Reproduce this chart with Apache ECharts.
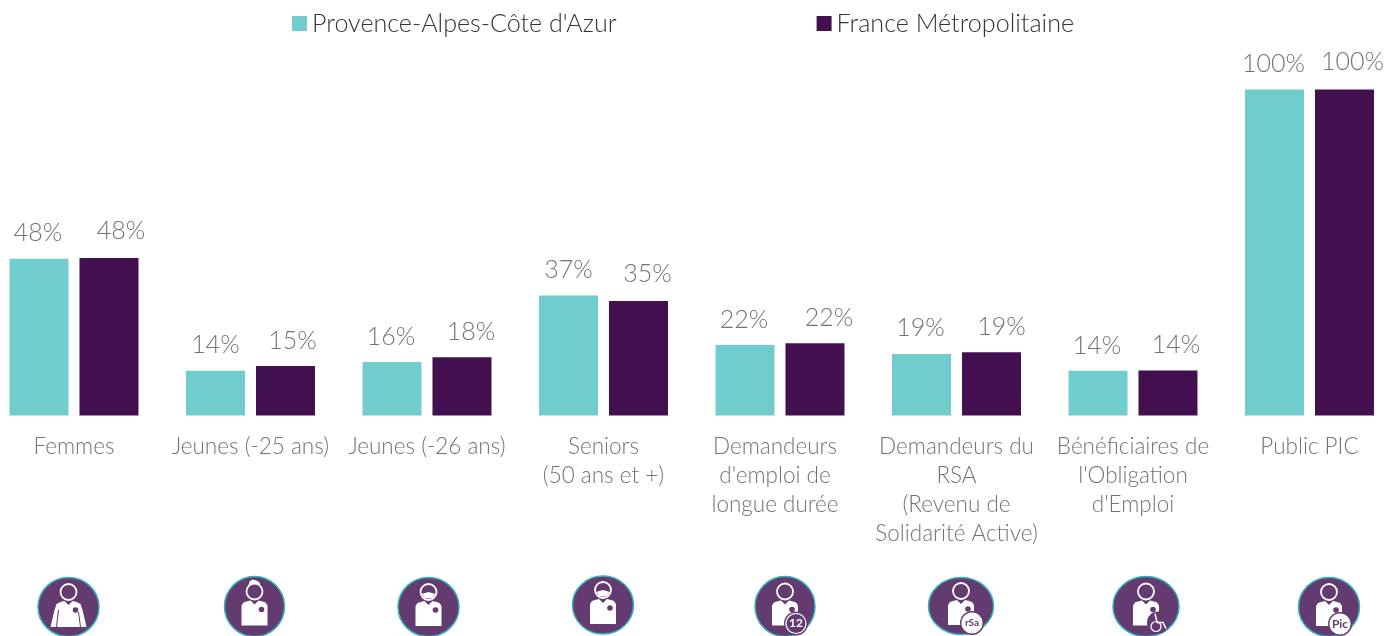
<!DOCTYPE html>
<html>
<head>
<meta charset="utf-8">
<title>Public PIC</title>
<style>
html, body { margin: 0; padding: 0; background: #fff; }
#chart { width: 1386px; height: 636px; }
</style>
<script src="https://cdn.jsdelivr.net/npm/echarts@6/dist/echarts.min.js"></script>
</head>
<body>
<div id="chart"></div>
<script>
// donnees
var categories = ['Femmes', 'Jeunes (-25 ans)', 'Jeunes (-26 ans)', 'Seniors\n(50 ans et +)',
    "Demandeurs\nd'emploi de\nlongue durée", 'Demandeurs du\nRSA\n(Revenu de\nSolidarité Active)',
    "Bénéficiaires de\nl'Obligation\nd'Emploi", 'Public PIC'];
var regionName = "Provence-Alpes-Côte d'Azur";
var franceName = 'France Métropolitaine';
var regionValues = [48.1, 13.7, 16.4, 36.8, 21.6, 18.9, 13.7, 100];
var franceValues = [48.3, 15.2, 17.9, 35.1, 22.2, 19.4, 13.8, 100];

// decalage des etiquettes [x, y], les etiquettes ne sont pas centrees sur les barres
var regionLabelShift = [[-1, 0], [0, 0], [-1, 0], [0, 0], [-1, 0], [-1, 0], [-1, 1], [-1, 0]];
var franceLabelShift = [[12, -2], [7, 0], [9, 0], [9, -2], [14, 0], [10, 0], [8, 0], [8, -2]];

// pictogrammes : centre x, centre y, rx, ry, type
var icons = [
    [68.5, 607, 30.5, 29.5, 'femme'],
    [254.5, 606.5, 30, 30, 'jeune1'],
    [428.5, 607, 30.5, 29.5, 'jeune2'],
    [603, 605, 30.5, 29, 'senior'],
    [785, 606.5, 30, 30, '12'],
    [961, 606, 32.5, 28.5, 'rSa'],
    [1146, 606.5, 33, 30, 'fauteuil'],
    [1329, 607, 30.5, 29.5, 'Pic']
];

var FONT = 'Lato';
var GREY = '#737373';
var PURPLE = '#643b70';

var bodyPoints = [[-8, -5], [-4, -6], [0, -2], [4, -6], [8, -5], [11, -4], [13, -1], [13, 3], [13, 19], [-13, 19], [-13, 3], [-13, -1], [-11, -4]];
var womanPoints = [[-8, -5], [-4, -6], [0, -2], [4, -6], [8, -5], [12, -3], [14, 3], [18, 20], [-18, 20], [-14, 3], [-12, -3]];
var hairPoints = [[-6, -21], [-5, -25], [-2, -27], [2, -26], [5, -24], [6, -21], [0, -23]];
var beardPoints = [[-7, -13], [0, -15], [7, -13], [4, -9], [0, -8.5], [-4, -9]];

function seriesData(values, shifts) {
    return values.map(function (v, i) {
        return { value: v, label: { offset: shifts[i] } };
    });
}

function iconGraphic(ic) {
    var type = ic[4];
    var children = [
        { type: 'ellipse', shape: { cx: 0, cy: 0, rx: ic[2], ry: ic[3] },
          style: { fill: PURPLE, stroke: '#35b3b8', lineWidth: 1.5 } },
        { type: 'ellipse', shape: { cx: 0, cy: -15, rx: 8, ry: 8 },
          style: { fill: PURPLE, stroke: '#fff', lineWidth: 1.8 } }
    ];
    // corps
    if (type === 'femme') {
        children.push({ type: 'polygon', shape: { points: womanPoints }, style: { fill: '#fff' } });
        children.push({ type: 'polyline', shape: { points: [[-10, 3], [-12, 20]] }, style: { stroke: PURPLE, lineWidth: 1, fill: null } });
        children.push({ type: 'polyline', shape: { points: [[10, 5], [12, 20]] }, style: { stroke: PURPLE, lineWidth: 1, fill: null } });
    } else {
        children.push({ type: 'polygon', shape: { points: bodyPoints }, style: { fill: '#fff' } });
    }
    children.push({ type: 'circle', shape: { cx: 7, cy: 3, r: 2.8 }, style: { fill: PURPLE } });
    // cheveux et barbes
    if (type === 'jeune1') {
        children.push({ type: 'polygon', shape: { points: hairPoints }, style: { fill: '#fff' } });
    }
    if (type === 'jeune2' || type === 'senior') {
        children.push({ type: 'polygon', shape: { points: beardPoints }, style: { fill: '#fff' } });
    }
    // badges
    if (type === '12' || type === 'rSa' || type === 'Pic') {
        children.push({ type: 'circle', shape: { cx: 11, cy: 17, r: 12 }, style: { fill: PURPLE } });
        children.push({ type: 'circle', shape: { cx: 11, cy: 17, r: 10 }, style: { fill: type === '12' ? PURPLE : '#fff', stroke: '#fff', lineWidth: 1.2 } });
        children.push({ type: 'text', style: { x: 11, y: 17, text: type, align: 'center', verticalAlign: 'middle',
            fill: type === '12' ? '#fff' : PURPLE, font: 'bold ' + (type === 'rSa' ? 10 : 12) + 'px "Liberation Sans Narrow", Lato' } });
    }
    if (type === 'fauteuil') {
        children.push({ type: 'circle', shape: { cx: 12, cy: 16, r: 11 }, style: { fill: PURPLE } });
        children.push({ type: 'circle', shape: { cx: 10, cy: 20, r: 5 }, style: { fill: null, stroke: '#fff', lineWidth: 1.2 } });
        children.push({ type: 'polyline', shape: { points: [[9, 7], [11, 16], [17, 16], [20, 22]] }, style: { fill: null, stroke: '#fff', lineWidth: 1.5 } });
    }
    return { type: 'group', x: ic[0], y: ic[1], children: children };
}

var chart = echarts.init(document.getElementById('chart'), null, { renderer: 'canvas' });

var barLabel = {
    show: true,
    position: 'top',
    distance: 13,
    fontFamily: FONT,
    fontWeight: 300,
    fontSize: 25,
    color: GREY,
    formatter: function (p) { return Math.round(p.value) + '%'; }
};

chart.setOption({
    animation: false,
    backgroundColor: '#fff',
    legend: {
        left: 287,
        top: 6,
        itemWidth: 15,
        itemHeight: 15,
        itemGap: 200,
        icon: 'rect',
        data: [regionName, franceName],
        textStyle: { fontFamily: FONT, fontWeight: 300, fontSize: 25.1, color: '#333' }
    },
    grid: { left: -14.25, top: 89.5, width: 1412, height: 326, outerBoundsMode: 'none' },
    xAxis: {
        type: 'category',
        data: categories.map(function (c, i) {
            // ce libelle est decale vers la gauche dans l'original
            return i === 4 ? { value: c, textStyle: { padding: [0, 10, 0, 0] } } : c;
        }),
        axisLine: { show: false },
        axisTick: { show: false },
        axisLabel: {
            interval: 0,
            margin: 17,
            fontFamily: FONT,
            fontWeight: 300,
            fontSize: 22.5,
            lineHeight: 29,
            color: GREY
        }
    },
    yAxis: { type: 'value', min: 0, max: 100, show: false },
    series: [
        { name: regionName, type: 'bar', barWidth: 59, barGap: '18.6%', itemStyle: { color: '#70cccd' },
          label: barLabel, data: seriesData(regionValues, regionLabelShift) },
        { name: franceName, type: 'bar', barWidth: 59, itemStyle: { color: '#43104f' },
          label: barLabel, data: seriesData(franceValues, franceLabelShift) }
    ],
    graphic: icons.map(iconGraphic)
});
</script>
</body>
</html>
